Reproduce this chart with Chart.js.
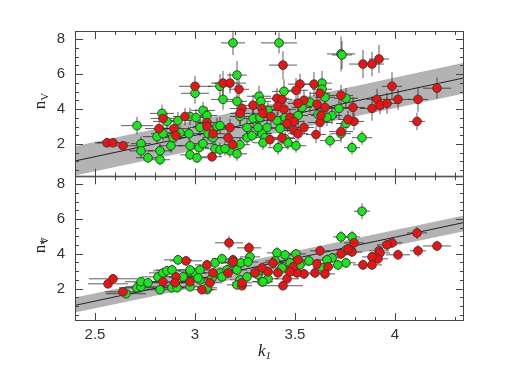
<!DOCTYPE html>
<html>
<head>
<meta charset="utf-8">
<script src="https://cdn.jsdelivr.net/npm/chart.js@4"></script>
<style>
  body { margin: 0; background: #fff; width: 510px; height: 382px; position: relative; overflow: hidden; }
  canvas { position: absolute; left: 0; }
  #cTop { top: 0; }
  #cBot { top: 171px; }
  .lab { position: absolute; font-family: "Liberation Serif", "DejaVu Serif", serif; font-size: 17px; color: #222; white-space: nowrap; }
  .ylab { transform: translate(-50%, -50%) rotate(-90deg); }
  .lab sub { font-size: 11px; vertical-align: -3px; }
  .star { display: inline-block; position: relative; width: 0; }
  .star span { position: absolute; top: -9px; left: 0; font-size: 13px; }
  #xlab { left: 258px; top: 341px; font-style: italic; }
</style>
</head>
<body>
<canvas id="cTop" width="510" height="182"></canvas>
<canvas id="cBot" width="510" height="211"></canvas>
<div class="lab ylab" style="left:40px; top:101px;">n<sub>V</sub></div>
<div class="lab ylab" style="left:40px; top:245px;">n<span class="star"><span>*</span></span><sub>V</sub></div>
<div class="lab" id="xlab">k<sub>1</sub></div>
<script>
// axis ranges and tick labels
const xMin = 2.4, xMax = 4.345;
const yMin = 0.13, yMax = 8.46;
const xTicks = [2.5, 3, 3.5, 4];
const yTicks = [2, 4, 6, 8];

// fit line and grey band  (k, upper, lower)
const fitK = [2.4, 4.345];
const topFit = [1.03, 5.78];
const topBandHi = [1.87, 6.65];
const topBandLo = [0.20, 4.88];
const botFit = [1.03, 5.8];
const botBandHi = [1.48, 6.2];
const botBandLo = [0.62, 5.3];

// points: [k1, n, err k1, err n]
const topRed = [
  [2.56,2.07,0.06,0.15],[2.59,2.07,0.08,0.15],[2.64,1.90,0.10,0.2],[3.00,5.30,0.08,0.6],
  [3.14,5.48,0.06,0.7],[3.175,5.48,0.08,0.6],[3.22,5.13,0.05,0.7],[2.82,2.88,0.07,0.4],
  [2.84,3.46,0.06,0.5],[2.895,2.88,0.08,0.4],[2.95,3.57,0.06,0.5],[3.06,3.23,0.05,0.5],
  [3.06,3.00,0.07,0.4],[3.235,4.03,0.06,0.5],[3.225,3.75,0.05,0.6],[3.085,1.27,0.05,0.3],
  [3.09,2.59,0.06,0.4],[3.175,2.94,0.05,0.5],[3.19,1.96,0.04,0.4],[3.165,2.36,0.05,0.4],
  [2.905,2.48,0.06,0.4],[3.29,4.21,0.06,0.6],[3.44,6.51,0.07,0.8],[3.84,6.57,0.07,0.8],
  [3.885,6.57,0.06,0.7],[3.92,6.86,0.05,0.8],[3.985,5.30,0.05,0.8],[4.21,5.19,0.07,0.6],
  [4.115,4.55,0.05,0.7],[4.015,4.55,0.06,0.6],[3.91,4.55,0.05,0.6],[3.885,4.03,0.06,0.7],
  [3.925,4.21,0.05,0.5],[3.96,4.32,0.05,0.6],[3.79,4.09,0.06,0.6],[3.73,4.78,0.06,0.6],
  [4.11,3.29,0.04,0.5],[3.795,3.29,0.05,0.5],[3.765,3.40,0.05,0.5],[3.73,2.71,0.06,0.5],
  [3.605,2.54,0.05,0.5],[3.625,3.23,0.06,0.6],[3.63,3.63,0.05,0.5],[3.61,4.27,0.05,0.6],
  [3.595,5.42,0.06,0.7],[3.625,4.90,0.05,0.6],[3.525,5.42,0.06,0.6],[3.505,5.07,0.06,0.7],
  [3.545,4.50,0.05,0.6],[3.515,4.32,0.05,0.6],[3.41,4.61,0.06,0.6],[3.435,4.55,0.05,0.6],
  [3.415,4.15,0.05,0.5],[3.445,3.98,0.06,0.5],[3.335,4.03,0.05,0.6],[3.34,3.75,0.06,0.5],
  [3.38,3.57,0.05,0.5],[3.475,3.52,0.05,0.5],[3.495,3.29,0.05,0.5],[3.46,3.17,0.06,0.5],
  [3.545,2.94,0.05,0.4],[3.495,2.77,0.05,0.4],[3.515,2.59,0.05,0.5],[3.435,2.36,0.06,0.4],
  [3.375,2.25,0.05,0.4],[3.65,4.09,0.05,0.5]
];
const topGreen = [
  [2.71,3.05,0.08,0.5],[2.73,2.02,0.05,0.4],[2.73,1.61,0.06,0.4],[2.765,1.21,0.06,0.3],
  [2.825,1.10,0.05,0.3],[2.825,1.61,0.06,0.4],[2.81,2.42,0.07,0.4],[2.835,3.75,0.06,0.5],
  [2.84,2.59,0.06,0.4],[2.86,3.29,0.07,0.5],[2.88,1.90,0.06,0.4],[2.89,2.36,0.06,0.4],
  [2.915,3.34,0.07,0.5],[2.925,2.65,0.06,0.4],[2.975,3.57,0.06,0.5],[3.00,4.90,0.07,0.6],
  [3.005,3.51,0.05,0.5],[2.97,2.59,0.05,0.4],[2.975,1.90,0.06,0.4],[2.975,1.38,0.05,0.3],
  [3.01,1.21,0.05,0.3],[3.02,1.79,0.05,0.4],[3.025,2.94,0.05,0.5],[3.04,3.92,0.06,0.5],
  [3.06,3.63,0.05,0.5],[3.04,2.02,0.05,0.4],[3.065,2.59,0.05,0.4],[3.09,2.36,0.05,0.4],
  [3.11,3.00,0.05,0.5],[3.125,3.05,0.05,0.5],[3.14,4.55,0.06,0.6],[3.125,5.30,0.06,0.7],
  [3.19,7.78,0.06,0.7],[3.21,5.94,0.05,0.8],[3.21,4.44,0.05,0.6],[3.225,3.57,0.05,0.5],
  [3.26,2.94,0.05,0.5],[3.175,1.61,0.05,0.4],[3.21,1.44,0.05,0.4],[3.225,1.96,0.05,0.4],
  [3.26,2.36,0.05,0.4],[3.10,1.73,0.05,0.4],[3.125,1.67,0.05,0.4],[3.15,1.73,0.05,0.4],
  [3.29,3.46,0.05,0.5],[3.285,2.48,0.05,0.4],[3.42,7.78,0.09,0.6],[3.73,7.15,0.07,1.0],
  [3.735,7.09,0.05,0.8],[3.445,5.01,0.06,0.7],[3.635,5.48,0.05,0.7],[3.635,5.13,0.05,0.6],
  [3.65,4.67,0.05,0.6],[3.755,4.61,0.06,0.6],[3.32,4.73,0.06,0.6],[3.33,4.44,0.05,0.6],
  [3.72,4.03,0.05,0.6],[3.685,3.63,0.05,0.5],[3.66,3.52,0.05,0.5],[3.615,3.69,0.05,0.5],
  [3.575,4.38,0.05,0.6],[3.535,4.09,0.05,0.5],[3.515,3.63,0.05,0.5],[3.365,3.92,0.05,0.5],
  [3.41,3.34,0.05,0.5],[3.45,3.51,0.05,0.5],[3.465,3.17,0.05,0.5],[3.425,2.88,0.05,0.4],
  [3.36,2.94,0.05,0.4],[3.335,2.59,0.05,0.4],[3.35,2.36,0.05,0.4],[3.34,2.07,0.05,0.4],
  [3.45,2.31,0.05,0.4],[3.465,2.07,0.05,0.4],[3.505,1.90,0.05,0.4],[3.415,1.79,0.05,0.4],
  [3.675,2.19,0.05,0.4],[3.73,2.59,0.05,0.5],[3.755,3.17,0.05,0.5],[3.785,1.79,0.04,0.4],
  [3.835,2.36,0.05,0.4],[3.315,2.94,0.05,0.4],[3.325,3.51,0.05,0.5]
];
const botRed = [
  [2.565,2.27,0.10,0.2],[2.59,2.56,0.12,0.25],[2.64,1.81,0.09,0.2],[2.955,3.59,0.08,0.25],
  [3.17,4.63,0.07,0.4],[3.27,4.34,0.06,0.35],[3.06,3.36,0.06,0.3],[3.09,2.90,0.06,0.3],
  [3.19,3.65,0.05,0.3],[3.235,2.16,0.05,0.25],[2.84,2.39,0.07,0.25],[2.905,2.67,0.08,0.3],
  [4.11,5.20,0.05,0.35],[4.115,4.17,0.04,0.35],[4.21,4.45,0.07,0.3],[3.985,4.63,0.05,0.3],
  [3.96,4.51,0.05,0.3],[4.015,3.94,0.06,0.3],[3.92,4.17,0.05,0.3],[3.925,4.05,0.05,0.3],
  [3.915,3.71,0.05,0.3],[3.885,3.82,0.05,0.3],[3.885,3.36,0.05,0.3],[3.84,3.36,0.05,0.3],
  [3.795,4.63,0.05,0.3],[3.785,4.11,0.05,0.3],[3.765,4.28,0.04,0.3],[3.73,3.99,0.05,0.3],
  [3.625,4.17,0.05,0.3],[3.61,3.42,0.05,0.3],[3.60,2.90,0.05,0.3],[3.545,2.84,0.05,0.3],
  [3.51,2.90,0.05,0.3],[3.46,2.56,0.06,0.3],[3.44,2.16,0.10,0.25],[3.39,3.48,0.05,0.3],
  [3.415,2.90,0.05,0.3],[3.49,3.25,0.05,0.3],[3.515,3.65,0.05,0.3],[3.665,3.25,0.05,0.3],
  [3.65,2.84,0.05,0.3],[3.475,2.96,0.05,0.3],[3.365,2.96,0.05,0.3],[3.335,3.19,0.05,0.3],
  [2.975,2.39,0.06,0.25],[3.075,2.33,0.06,0.25],[3.165,2.90,0.05,0.25],[3.235,2.33,0.05,0.25],
  [3.035,1.93,0.06,0.25],[2.90,2.33,0.08,0.25],[3.30,2.90,0.05,0.25],[3.19,3.53,0.05,0.3]
];
const botGreen = [
  [2.655,1.70,0.10,0.2],[2.71,2.04,0.09,0.25],[2.73,2.10,0.08,0.25],[2.73,2.39,0.08,0.25],
  [2.765,2.33,0.07,0.25],[2.815,2.67,0.08,0.3],[2.915,3.65,0.07,0.3],[2.84,2.90,0.07,0.3],
  [2.86,3.02,0.07,0.3],[2.885,3.07,0.08,0.3],[2.825,1.93,0.07,0.25],[2.885,2.04,0.06,0.25],
  [2.91,2.04,0.07,0.25],[2.975,2.96,0.06,0.3],[2.975,2.10,0.06,0.25],[3.00,2.90,0.06,0.3],
  [3.025,2.50,0.06,0.3],[3.06,1.93,0.05,0.25],[3.10,3.48,0.06,0.3],[3.135,3.71,0.05,0.3],
  [3.185,3.48,0.05,0.3],[3.21,3.07,0.05,0.3],[3.225,2.50,0.05,0.3],[3.275,3.82,0.05,0.3],
  [3.26,2.67,0.05,0.3],[3.025,3.07,0.06,0.3],[3.085,2.61,0.05,0.3],[3.125,2.90,0.05,0.3],
  [3.16,3.07,0.05,0.3],[3.835,6.45,0.04,0.45],[3.73,4.97,0.04,0.35],[3.785,4.97,0.04,0.35],
  [3.755,4.22,0.05,0.3],[3.755,3.48,0.05,0.3],[3.715,3.36,0.05,0.3],[3.685,3.76,0.05,0.3],
  [3.66,3.65,0.05,0.3],[3.64,3.19,0.05,0.3],[3.57,3.59,0.06,0.3],[3.505,3.99,0.05,0.3],
  [3.45,3.94,0.05,0.3],[3.41,4.05,0.05,0.35],[3.40,3.59,0.05,0.3],[3.335,2.39,0.05,0.3],
  [3.365,2.56,0.05,0.3],[3.315,2.79,0.05,0.3],[3.475,3.48,0.05,0.3],[3.435,3.19,0.05,0.3],
  [3.525,3.36,0.05,0.3],[3.015,2.61,0.06,0.3],[3.135,2.67,0.05,0.3],[3.21,2.21,0.05,0.25],
  [3.34,2.39,0.05,0.25],[3.06,2.04,0.05,0.25],[2.94,2.67,0.07,0.3],[2.975,3.07,0.06,0.3],
  [3.325,3.07,0.05,0.3],[3.23,3.48,0.05,0.3],[3.265,3.53,0.05,0.3]
];

const RED = '#f51010';
const GREEN = '#14ea14';
const EDGE = '#3a3a3a';
const AXIS = '#444';

function toXY(list) {
    return list.map(p => ({ x: p[0], y: p[1], dx: p[2], dy: p[3] }));
}

function lineXY(ks, ns) {
    return ks.map((k, i) => ({ x: k, y: ns[i] }));
}

// error bars go under the points
const errorBars = {
    id: 'errorBars',
    beforeDatasetDraw(chart, args) {
        if (args.index !== 1) return;
        const { ctx, scales: { x, y } } = chart;
        ctx.save();
        ctx.strokeStyle = 'rgba(25,25,25,0.7)';
        ctx.lineWidth = 1;
        ctx.beginPath();
        [0, 1].forEach(di => {
            chart.data.datasets[di].data.forEach(p => {
                const px = x.getPixelForValue(p.x), py = y.getPixelForValue(p.y);
                ctx.moveTo(x.getPixelForValue(p.x - p.dx), py);
                ctx.lineTo(x.getPixelForValue(p.x + p.dx), py);
                ctx.moveTo(px, y.getPixelForValue(p.y - p.dy));
                ctx.lineTo(px, y.getPixelForValue(p.y + p.dy));
            });
        });
        ctx.stroke();
        ctx.restore();
    }
};

// box and inward ticks on all four sides
const axesBox = {
    id: 'axesBox',
    afterDraw(chart) {
        const ctx = chart.ctx, a = chart.chartArea;
        const x = chart.scales.x, y = chart.scales.y;
        ctx.save();
        ctx.strokeStyle = AXIS;
        ctx.lineWidth = 1;
        ctx.strokeRect(a.left + 0.5, a.top + 0.5, a.right - a.left - 1, a.bottom - a.top - 1);
        ctx.beginPath();
        for (let i = 24; i <= 43; i++) {
            const len = (i % 5 === 0) ? 8 : 4;
            const px = Math.round(x.getPixelForValue(i / 10)) + 0.5;
            if (px < a.left || px > a.right) continue;
            ctx.moveTo(px, a.top); ctx.lineTo(px, a.top + len);
            ctx.moveTo(px, a.bottom); ctx.lineTo(px, a.bottom - len);
        }
        for (let i = 1; i <= 16; i++) {
            const len = (i % 4 === 0) ? 8 : 4;
            const py = Math.round(y.getPixelForValue(i / 2)) + 0.5;
            if (py < a.top || py > a.bottom) continue;
            ctx.moveTo(a.left, py); ctx.lineTo(a.left + len, py);
            ctx.moveTo(a.right, py); ctx.lineTo(a.right - len, py);
        }
        ctx.stroke();
        ctx.restore();
    }
};

function makePanel(canvasId, red, green, fit, hi, lo, showX) {
    const tickFont = { family: '"Liberation Sans", "DejaVu Sans", sans-serif', size: 15 };
    return new Chart(document.getElementById(canvasId), {
        type: 'scatter',
        data: {
            datasets: [
                { data: toXY(red), backgroundColor: RED, borderColor: EDGE, borderWidth: 1, pointRadius: 4.3 },
                { data: toXY(green), backgroundColor: GREEN, borderColor: EDGE, borderWidth: 1, pointRadius: 4.3 },
                { type: 'line', data: lineXY(fitK, fit), borderColor: '#222', borderWidth: 1, pointRadius: 0, fill: false },
                { type: 'line', data: lineXY(fitK, hi), borderWidth: 0, pointRadius: 0, backgroundColor: '#b3b3b3', fill: '+1' },
                { type: 'line', data: lineXY(fitK, lo), borderWidth: 0, pointRadius: 0, fill: false }
            ]
        },
        options: {
            responsive: false,
            animation: false,
            layout: { padding: { left: 0, right: 46, top: showX ? 0 : 31, bottom: 0 } },
            plugins: { legend: { display: false }, tooltip: { enabled: false } },
            scales: {
                x: {
                    type: 'linear', min: xMin, max: xMax,
                    display: showX,
                    grid: { display: false, tickLength: 5 },
                    border: { display: false },
                    afterBuildTicks: s => { s.ticks = xTicks.map(v => ({ value: v })); },
                    afterFit: s => { s.height = showX ? 61 : 0; s.paddingLeft = 0; s.paddingRight = 0; },
                    ticks: { color: '#333', font: tickFont, padding: 0, maxRotation: 0, callback: v => String(v) }
                },
                y: {
                    type: 'linear', min: yMin, max: yMax,
                    grid: { display: false, tickLength: 10 },
                    border: { display: false },
                    afterBuildTicks: s => { s.ticks = yTicks.map(v => ({ value: v })); },
                    afterFit: s => { s.width = 75; s.paddingTop = 0; s.paddingBottom = 0; },
                    ticks: { color: '#333', font: tickFont, padding: 0, callback: v => String(v) }
                }
            }
        },
        plugins: [errorBars, axesBox]
    });
}

makePanel('cTop', topRed, topGreen, topFit, topBandHi, topBandLo, false);
makePanel('cBot', botRed, botGreen, botFit, botBandHi, botBandLo, true);
</script>
</body>
</html>
